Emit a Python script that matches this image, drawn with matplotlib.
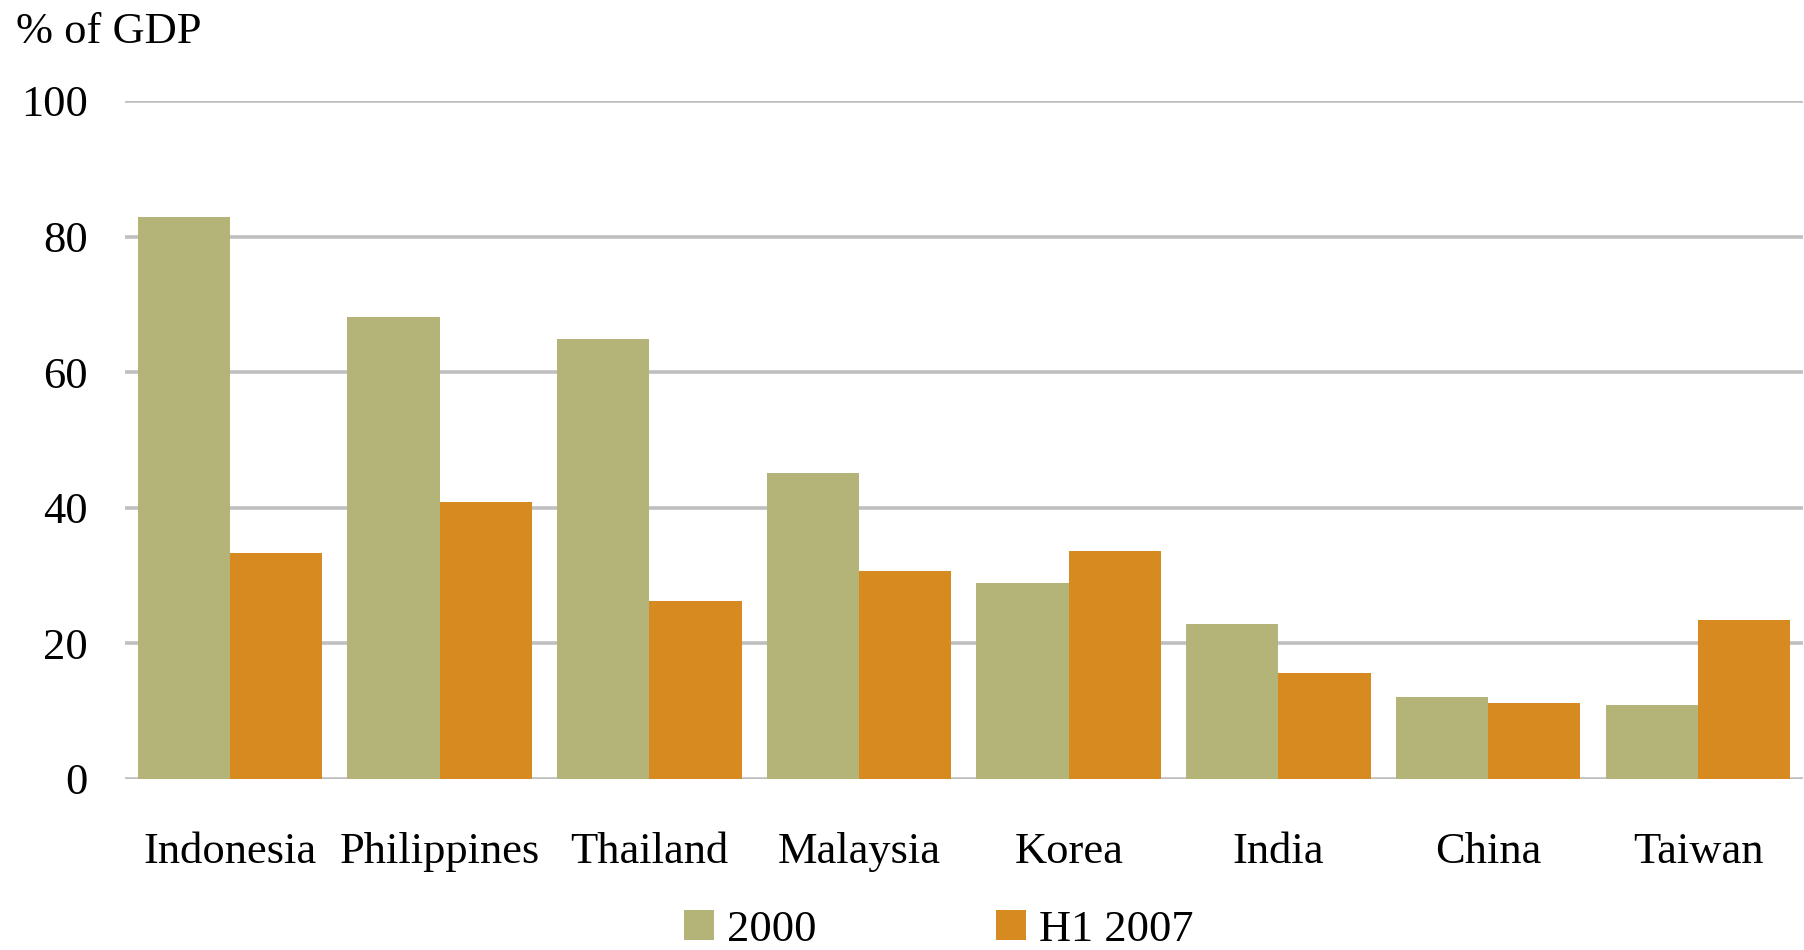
import matplotlib
matplotlib.use("Agg")
import matplotlib.pyplot as plt
import numpy as np

countries = ["Indonesia", "Philippines", "Thailand", "Malaysia",
             "Korea", "India", "China", "Taiwan"]
share_2000 = [82.9, 68.1, 64.9, 45.2, 28.9, 22.8, 12.1, 10.9]
share_h1_2007 = [33.4, 40.9, 26.3, 30.7, 33.6, 15.6, 11.2, 23.4]
series_labels = ["2000", "H1 2007"]
y_ticks = [0, 20, 40, 60, 80, 100]

GREEN = "#B4B478"
ORANGE = "#D68A20"
GRID = "#BFBFBF"


def main():
    plt.rcParams["font.family"] = ["Liberation Serif", "DejaVu Serif"]

    fig = plt.figure(figsize=(18.04, 9.5), dpi=100)
    ax = fig.add_axes([0.0693, 0.180, 0.930, 0.7137])

    x = np.arange(len(countries))
    w = 0.44
    ax.bar(x - w / 2, share_2000, width=w, color=GREEN, label=series_labels[0], zorder=3)
    ax.bar(x + w / 2, share_h1_2007, width=w, color=ORANGE, label=series_labels[1], zorder=3)

    ax.set_xlim(-0.5, len(countries) - 0.5)
    ax.set_ylim(0, 100)
    ax.set_yticks(y_ticks)
    ax.set_xticks(x)
    ax.set_xticklabels(countries)
    ax.tick_params(axis="both", length=0, labelsize=32)
    ax.tick_params(axis="y", pad=27)
    ax.tick_params(axis="x", pad=38)

    for v in y_ticks:
        ax.axhline(v, color=GRID, lw=2.6, zorder=1)
    for s in ax.spines.values():
        s.set_visible(False)

    fig.text(0.009, 1 - 32 / 950, "% of GDP", fontsize=32, va="center", ha="left")

    fig.legend(loc="center", bbox_to_anchor=(0.5205, 1 - 930 / 950), ncol=2,
               frameon=False, fontsize=32, handlelength=0.66, handleheight=0.66,
               handletextpad=0.3, columnspacing=4.05)

    fig.savefig("out.png", dpi=100)


if __name__ == "__main__":
    main()
